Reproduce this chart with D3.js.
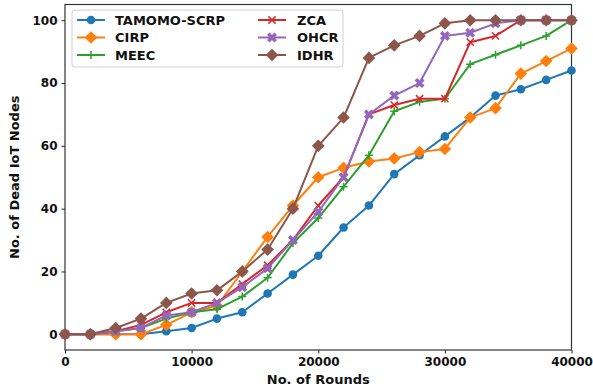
<!DOCTYPE html>
<html>
<head>
<meta charset="utf-8">
<script src="https://cdn.jsdelivr.net/npm/d3@7/dist/d3.min.js"></script>
<style>
  html, body { margin: 0; padding: 0; background: #fff; }
  svg { display: block; }
  text { font-family: "DejaVu Sans", sans-serif; font-weight: bold; }
</style>
</head>
<body>
<script>
// ---- data ----
const rounds = [0, 2000, 4000, 6000, 8000, 10000, 12000, 14000, 16000, 18000, 20000,
                22000, 24000, 26000, 28000, 30000, 32000, 34000, 36000, 38000, 40000];
const tamomo = [0, 0, 0, 0, 1, 2, 5, 7, 13, 19, 25, 34, 41, 51, 57, 63, 69, 76, 78, 81, 84];
const cirp   = [0, 0, 0, 0, 3, 7, 9, 20, 31, 41, 50, 53, 55, 56, 58, 59, 69, 72, 83, 87, 91];
const meec   = [0, 0, 1, 2, 5, 7, 8, 12, 18, 29, 37, 47, 57, 71, 74, 75, 86, 89, 92, 95, 100];
const zca    = [0, 0, 1, 3, 7, 10, 10, 16, 22, 30, 41, 50, 70, 73, 75, 75, 93, 95, 100, 100, 100];
const ohcr   = [0, 0, 1, 2, 6, 7, 10, 15, 21, 30, 39, 50, 70, 76, 80, 95, 96, 99, 100, 100, 100];
const idhr   = [0, 0, 2, 5, 10, 13, 14, 20, 27, 40, 60, 69, 88, 92, 95, 99, 100, 100, 100, 100, 100];
const seriesNames = ["TAMOMO-SCRP", "CIRP", "MEEC", "ZCA", "OHCR", "IDHR"];
const xTicks = [0, 10000, 20000, 30000, 40000];
const yTicks = [0, 20, 40, 60, 80, 100];
const xLabel = "No. of Rounds";
const yLabel = "No. of Dead IoT Nodes";

const series = [
  { name: seriesNames[0], values: tamomo, color: "#1f77b4", marker: "circle" },
  { name: seriesNames[1], values: cirp,   color: "#ff7f0e", marker: "diamond" },
  { name: seriesNames[2], values: meec,   color: "#2ca02c", marker: "plus" },
  { name: seriesNames[3], values: zca,    color: "#d62728", marker: "x" },
  { name: seriesNames[4], values: ohcr,   color: "#9467bd", marker: "X" },
  { name: seriesNames[5], values: idhr,   color: "#8c564b", marker: "diamond" }
];

// ---- layout ----
const W = 593, H = 390;
const L = 65, R = 571.5, T = 4.5, B = 350;

const svg = d3.select("body").append("svg").attr("width", W).attr("height", H);

const x = d3.scaleLinear().domain([0, 40000]).range([L, R]);
const y = d3.scaleLinear().domain([-5, 105]).range([B, T]);

// axes
const xAxis = d3.axisBottom(x).tickValues(xTicks).tickSize(3.5).tickPadding(4).tickFormat(d3.format("d"));
const yAxis = d3.axisLeft(y).tickValues(yTicks).tickSize(3.5).tickPadding(4).tickFormat(d3.format("d"));

const gx = svg.append("g").attr("transform", `translate(0,${B})`).call(xAxis);
const gy = svg.append("g").attr("transform", `translate(${L},0)`).call(yAxis);
[gx, gy].forEach(g => {
  g.select(".domain").remove();
  g.selectAll(".tick line").attr("stroke", "#222").attr("stroke-width", 1);
  g.selectAll(".tick text").attr("fill", "#111").style("font-size", "12px").style("font-weight", "bold")
    .style("font-family", "'DejaVu Sans', sans-serif");
});

// frame
svg.append("rect").attr("x", L).attr("y", T).attr("width", R - L).attr("height", B - T)
  .attr("fill", "none").attr("stroke", "#333").attr("stroke-width", 1.2);

// axis labels
svg.append("text").attr("x", (L + R) / 2).attr("y", 384).attr("text-anchor", "middle")
  .style("font-size", "13px").attr("fill", "#111").text(xLabel);
svg.append("text").attr("transform", `translate(19,${(T + B) / 2}) rotate(-90)`)
  .attr("text-anchor", "middle").style("font-size", "13px").attr("fill", "#111").text(yLabel);

// marker drawing
function drawMarker(g, type, color, cx, cy) {
  if (type === "circle") {
    g.append("circle").attr("cx", cx).attr("cy", cy).attr("r", 4.3).attr("fill", color);
  } else if (type === "diamond") {
    const r = 6.3;
    g.append("path").attr("d", `M${cx},${cy - r}L${cx + r},${cy}L${cx},${cy + r}L${cx - r},${cy}Z`)
      .attr("fill", color);
  } else if (type === "plus") {
    const r = 4;
    g.append("path").attr("d", `M${cx - r},${cy}H${cx + r}M${cx},${cy - r}V${cy + r}`)
      .attr("stroke", color).attr("stroke-width", 1.5).attr("fill", "none");
  } else if (type === "x") {
    const r = 3.6;
    g.append("path").attr("d", `M${cx - r},${cy - r}L${cx + r},${cy + r}M${cx - r},${cy + r}L${cx + r},${cy - r}`)
      .attr("stroke", color).attr("stroke-width", 1.5).attr("fill", "none");
  } else if (type === "X") {
    const r = 3.7;
    g.append("path").attr("d", `M${cx - r},${cy - r}L${cx + r},${cy + r}M${cx - r},${cy + r}L${cx + r},${cy - r}`)
      .attr("stroke", color).attr("stroke-width", 3.6).attr("fill", "none");
  }
}

// plot series
const plot = svg.append("g");
const line = d3.line().x((d, i) => x(rounds[i])).y(d => y(d));
series.forEach(s => {
  const g = plot.append("g");
  g.append("path").datum(s.values).attr("d", line)
    .attr("fill", "none").attr("stroke", s.color).attr("stroke-width", 2).attr("stroke-linejoin", "round");
  s.values.forEach((v, i) => drawMarker(g, s.marker, s.color, x(rounds[i]), y(v)));
});

// legend
const lg = svg.append("g");
lg.append("rect").attr("x", 72).attr("y", 10).attr("width", 271).attr("height", 57).attr("rx", 3)
  .attr("fill", "rgba(255,255,255,0.8)").attr("stroke", "#d0d0d0").attr("stroke-width", 1);
const rowsY = [20, 37.5, 55];
series.forEach((s, i) => {
  const col = Math.floor(i / 3), row = i % 3;
  const hx0 = col === 0 ? 77 : 258, hx1 = hx0 + 28;
  const yy = rowsY[row];
  lg.append("line").attr("x1", hx0).attr("x2", hx1).attr("y1", yy).attr("y2", yy)
    .attr("stroke", s.color).attr("stroke-width", 2);
  drawMarker(lg, s.marker, s.color, (hx0 + hx1) / 2, yy);
  lg.append("text").attr("x", col === 0 ? 115 : 297).attr("y", yy + 4.7)
    .style("font-size", "13px").attr("fill", "#111").text(s.name);
});
</script>
</body>
</html>
